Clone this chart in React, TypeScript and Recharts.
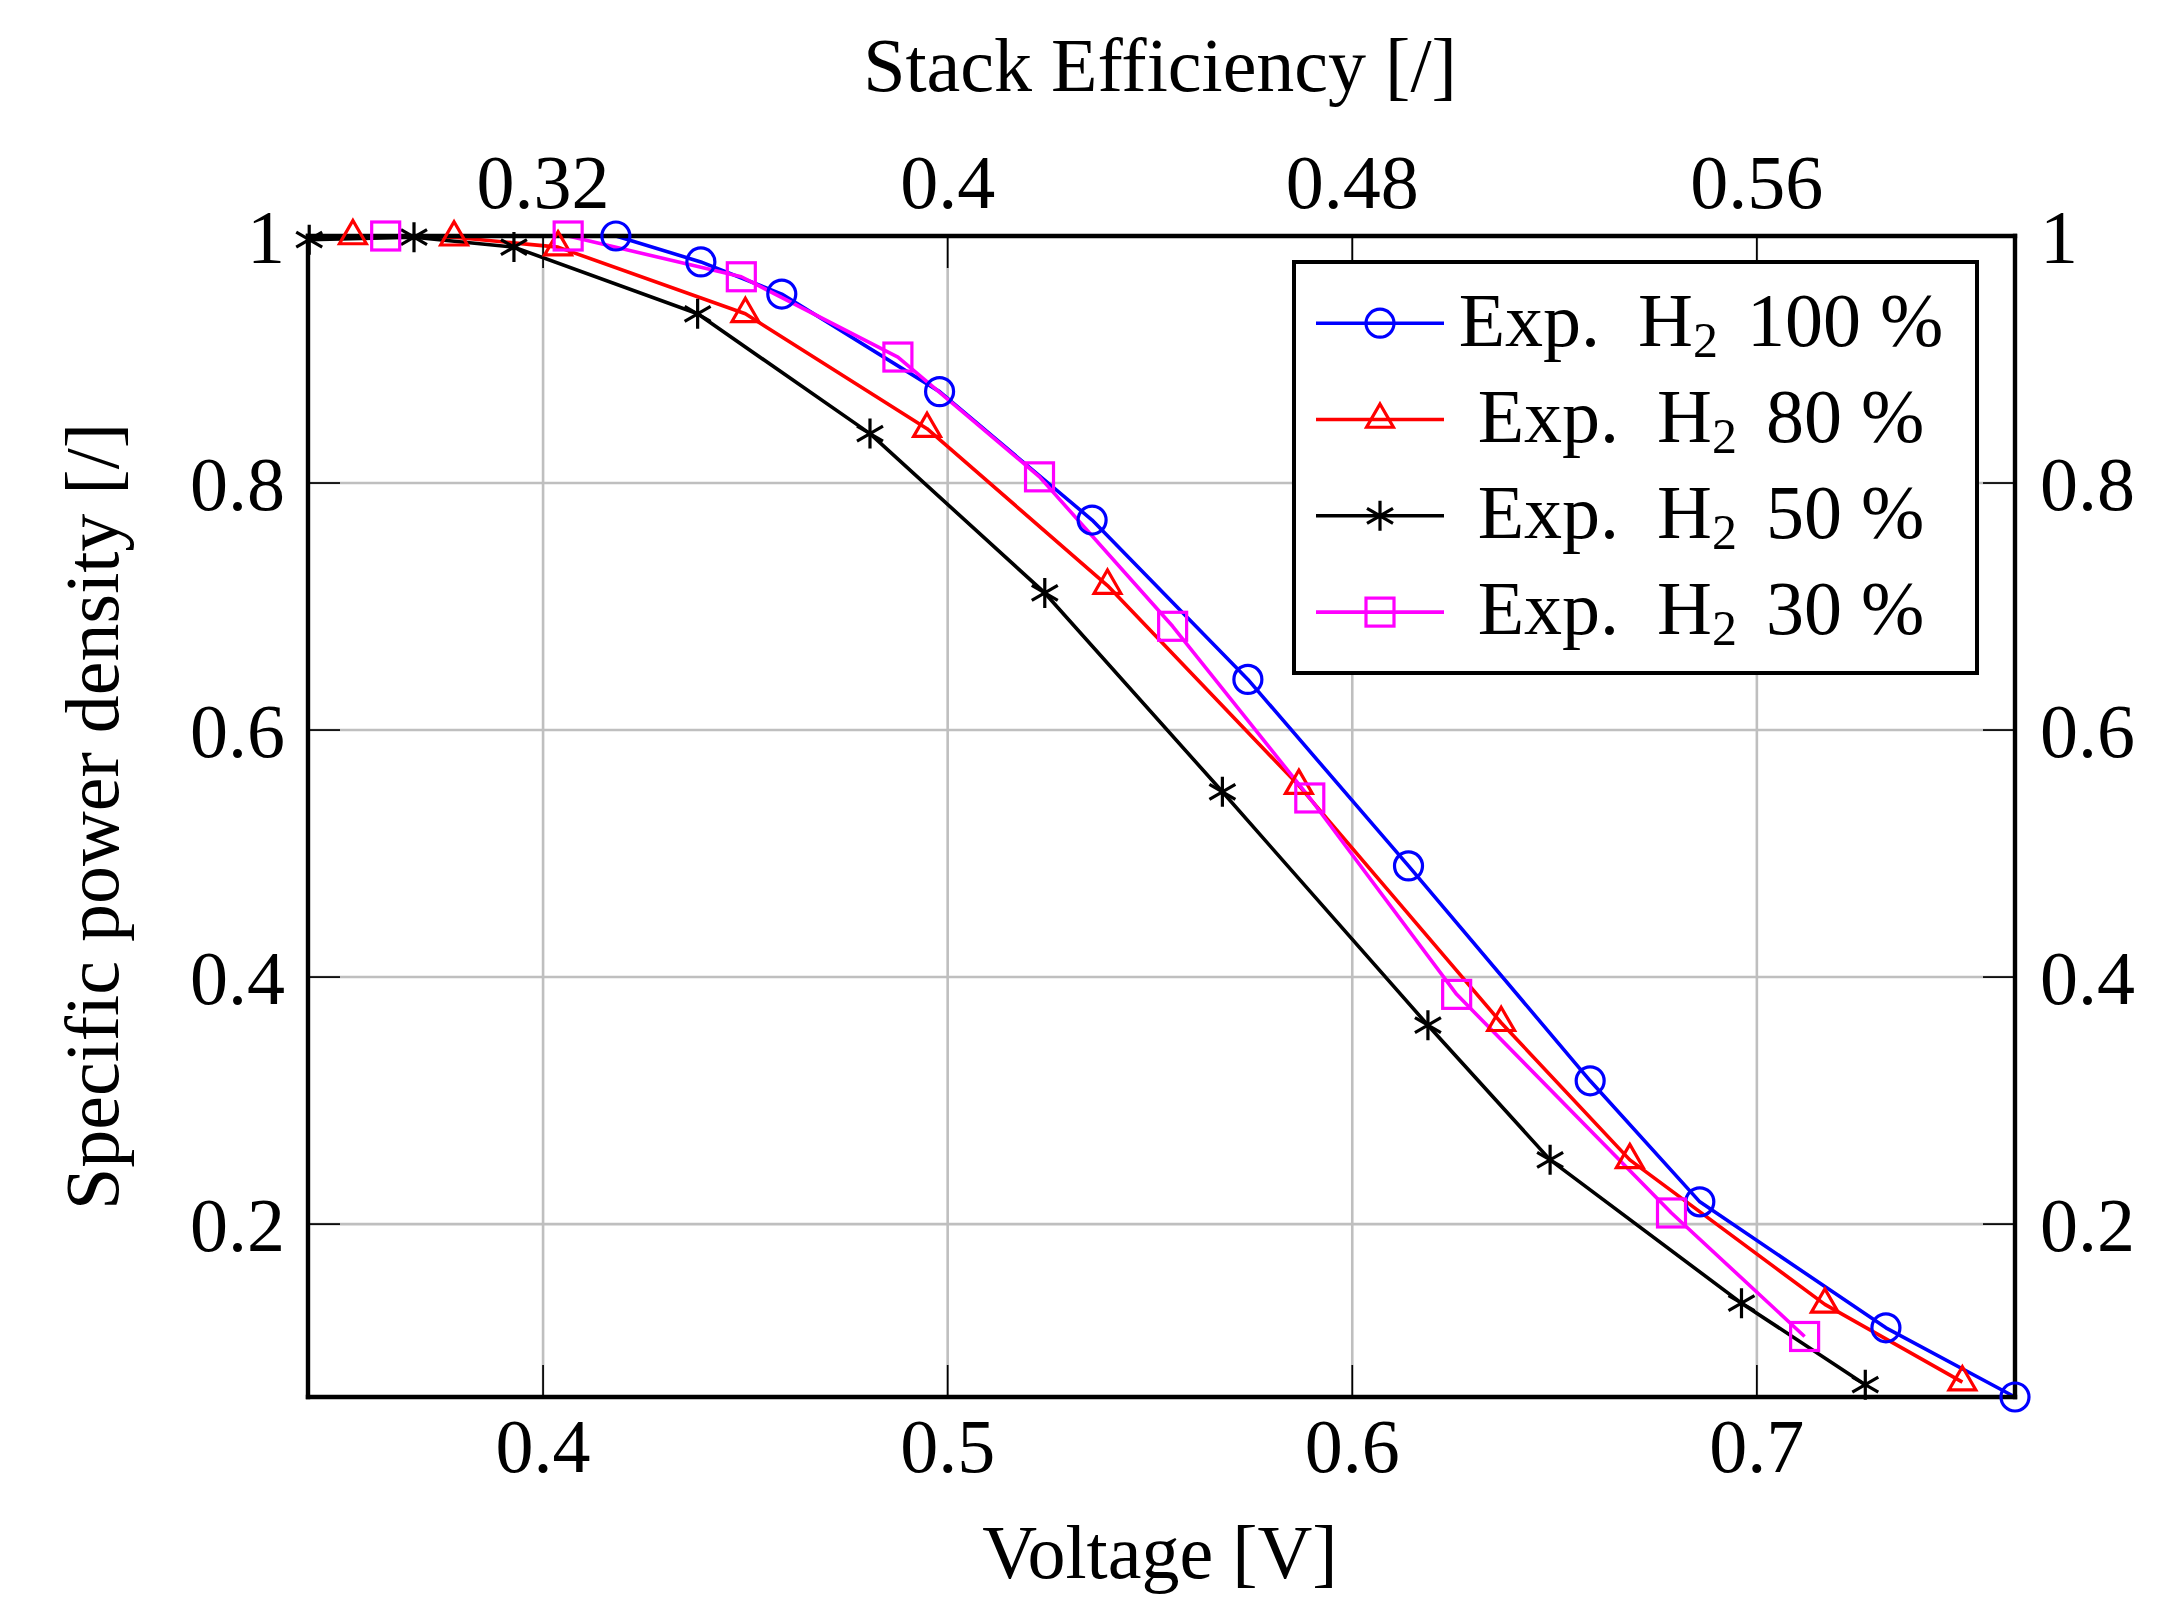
import React from "react";
import { LineChart, Line, XAxis, YAxis, CartesianGrid, Legend, Label } from "recharts";

const W = 2176;
const H = 1616;
const FONT = '"Liberation Serif", "DejaVu Serif", serif';
const FS = 76;

// voltage [V] vs specific power density [/] for each H2 fraction
const v100 = [0.418, 0.439, 0.459, 0.498, 0.5357, 0.5742, 0.6139, 0.6588, 0.6859, 0.7319, 0.7638];
const p100 = [1.0, 0.979, 0.953, 0.874, 0.77, 0.641, 0.49, 0.316, 0.218, 0.116, 0.06];

const v80 = [0.353, 0.378, 0.4037, 0.45, 0.4949, 0.5395, 0.5868, 0.6368, 0.6686, 0.7168, 0.7508];
const p80 = [1.0, 0.999, 0.991, 0.937, 0.844, 0.717, 0.555, 0.363, 0.252, 0.135, 0.072];

const v50 = [0.3422, 0.3681, 0.3928, 0.4382, 0.4808, 0.524, 0.5679, 0.6187, 0.6489, 0.6962, 0.7268];
const p50 = [0.997, 0.999, 0.991, 0.937, 0.84, 0.711, 0.55, 0.361, 0.252, 0.136, 0.07];

const v30 = [0.3611, 0.4062, 0.449, 0.4877, 0.5227, 0.5556, 0.5895, 0.6258, 0.6789, 0.7118];
const p30 = [1.0, 1.0, 0.967, 0.902, 0.805, 0.684, 0.545, 0.386, 0.209, 0.109];

const seriesLabels = ["100", "80", "50", "30"];

const voltageTicks = [0.4, 0.5, 0.6, 0.7];
const efficiencyTicks = [0.32, 0.4, 0.48, 0.56];
const densityTicks = [0.2, 0.4, 0.6, 0.8, 1];

const V_MIN = 0.3419;
const V_MAX = 0.7638;
const P_MIN = 0.06;
const P_MAX = 1;
// stack efficiency = V / 1.25
const EFF = 0.8;

type Shape = "circle" | "triangle" | "star" | "square";

// the 30 % series is placed through the efficiency (top) axis, same positions
const series = [
  { label: seriesLabels[0], v: v100, p: p100, color: "#0000ff", shape: "circle" as Shape, axis: 0 as any },
  { label: seriesLabels[1], v: v80, p: p80, color: "#ff0000", shape: "triangle" as Shape, axis: 0 as any },
  { label: seriesLabels[2], v: v50, p: p50, color: "#000000", shape: "star" as Shape, axis: 0 as any },
  { label: seriesLabels[3], v: v30, p: p30, color: "#ff00ff", shape: "square" as Shape, axis: "top" as any },
].map((s) => ({ ...s, data: s.v.map((v, i) => ({ v, p: s.p[i] })) }));

if (typeof document !== "undefined") {
  document.body.style.margin = "0";
  document.body.style.background = "#fff";
}

function Mark({ cx, cy, shape, color }: { cx?: number; cy?: number; shape: Shape; color: string }) {
  if (cx == null || cy == null) return null;
  const common = { fill: "none", stroke: color, strokeWidth: 3.2 };
  if (shape === "circle") return <circle cx={cx} cy={cy} r={14} {...common} />;
  if (shape === "square")
    return <rect x={cx - 14} y={cy - 14} width={28} height={28} {...common} />;
  if (shape === "triangle") {
    const r = 15.5;
    const dx = r * 0.866;
    return (
      <path
        d={`M${cx},${cy - r}L${cx + dx},${cy + r / 2}L${cx - dx},${cy + r / 2}Z`}
        {...common}
        strokeLinejoin="miter"
      />
    );
  }
  const r = 15;
  const dx = r * 0.866;
  const dy = r / 2;
  return (
    <path
      d={`M${cx},${cy - r}L${cx},${cy + r}M${cx - dx},${cy - dy}L${cx + dx},${cy + dy}M${cx - dx},${cy + dy}L${cx + dx},${cy - dy}`}
      {...common}
    />
  );
}

const dotFor = (shape: Shape, color: string) => (props: any) =>
  <Mark key={`${shape}-${props.index}`} cx={props.cx} cy={props.cy} shape={shape} color={color} />;

function LegendBox() {
  const rowY = [63.2, 159.5, 255.8, 352.1];
  return (
    <svg width={687} height={415} style={{ display: "block" }}>
      <rect x={2} y={2} width={683} height={411} fill="#fff" stroke="#000" strokeWidth={4} />
      {series.map((s, i) => (
        <g key={s.label}>
          <line x1={24} x2={152} y1={rowY[i]} y2={rowY[i]} stroke={s.color} strokeWidth={3.6} />
          <Mark cx={88} cy={rowY[i]} shape={s.shape} color={s.color} />
          <text
            x={409}
            y={rowY[i] + 22.3}
            textAnchor="middle"
            fontSize={FS}
            fontFamily={FONT}
            fill="#000"
            style={{ whiteSpace: "pre" }}
          >
            {"Exp.  H"}
            <tspan fontSize={50} dy={11}>2</tspan>
            <tspan dy={-11} dx={10}>{" " + s.label + " %"}</tspan>
          </text>
        </g>
      ))}
    </svg>
  );
}

const tickStyle = { fill: "#000", fontSize: FS, fontFamily: FONT };
const tickLine = { stroke: "#000", strokeWidth: 1.7 };
const axisLine = { stroke: "#000", strokeWidth: 4.4, strokeLinecap: "square" as const };

function axisTitle(text: string, dx: number, dy: number, rotate = false) {
  return (props: any) => {
    const vb = props.viewBox || { x: 0, y: 0, width: 0, height: 0 };
    const x = rotate ? vb.x + dx : vb.x + vb.width / 2 + dx;
    const y = rotate ? vb.y + vb.height / 2 + dy : vb.y + dy;
    return (
      <text
        x={x}
        y={y}
        transform={rotate ? `rotate(-90 ${x} ${y})` : undefined}
        textAnchor="middle"
        fontSize={FS}
        fontFamily={FONT}
        fill="#000"
      >
        {text}
      </text>
    );
  };
}

export default function App() {
  return (
    <div style={{ width: W, height: H, background: "#fff", position: "relative" }}>
      <LineChart width={W} height={H} margin={{ top: 0, right: 0, bottom: 0, left: 0 }}>
        <CartesianGrid stroke="#bfbfbf" strokeWidth={2.6} />
        <XAxis
          dataKey="v"
          type="number"
          domain={[V_MIN, V_MAX]}
          ticks={voltageTicks}
          interval={0}
          height={219}
          tickSize={-32}
          tickMargin={53}
          tickLine={tickLine}
          axisLine={axisLine}
          tick={tickStyle}
          tickFormatter={(v: number) => String(v)}
        >
          <Label content={axisTitle("Voltage [V]", -1.5, 181)} />
        </XAxis>
        <XAxis
          xAxisId="top"
          orientation="top"
          type="number"
          dataKey={(d: any) => d.v * EFF}
          domain={[V_MIN * EFF, V_MAX * EFF]}
          ticks={efficiencyTicks}
          interval={0}
          height={236}
          tickSize={-32}
          tickMargin={60}
          tickLine={tickLine}
          axisLine={axisLine}
          tick={tickStyle}
          tickFormatter={(v: number) => String(v)}
        >
          <Label content={axisTitle("Stack Efficiency [/]", -1.5, 91)} />
        </XAxis>
        <YAxis
          type="number"
          domain={[P_MIN, P_MAX]}
          ticks={densityTicks}
          interval={0}
          width={308}
          tickSize={-32}
          tickMargin={55}
          tickLine={tickLine}
          axisLine={axisLine}
          tick={tickStyle}
          tickFormatter={(v: number) => String(v)}
        >
          <Label content={axisTitle("Specific power density [/]", 118, 0, true)} />
        </YAxis>
        <YAxis
          yAxisId="right"
          orientation="right"
          type="number"
          domain={[P_MIN, P_MAX]}
          allowDataOverflow
          ticks={densityTicks}
          interval={0}
          width={161}
          tickSize={-32}
          tickMargin={57}
          tickLine={tickLine}
          axisLine={axisLine}
          tick={tickStyle}
          tickFormatter={(v: number) => String(v)}
        />
        {series.map((s) => (
          <Line
            key={s.label}
            xAxisId={s.axis}
            data={s.data}
            dataKey="p"
            type="linear"
            stroke={s.color}
            strokeWidth={3.6}
            strokeLinejoin="round"
            dot={dotFor(s.shape, s.color)}
            activeDot={false}
            isAnimationActive={false}
          />
        ))}
        <Legend
          layout="vertical"
          align="center"
          verticalAlign="middle"
          wrapperStyle={{ left: 1292, top: 259.5, width: 687, height: 415 }}
          content={() => <LegendBox />}
        />
      </LineChart>
    </div>
  );
}
